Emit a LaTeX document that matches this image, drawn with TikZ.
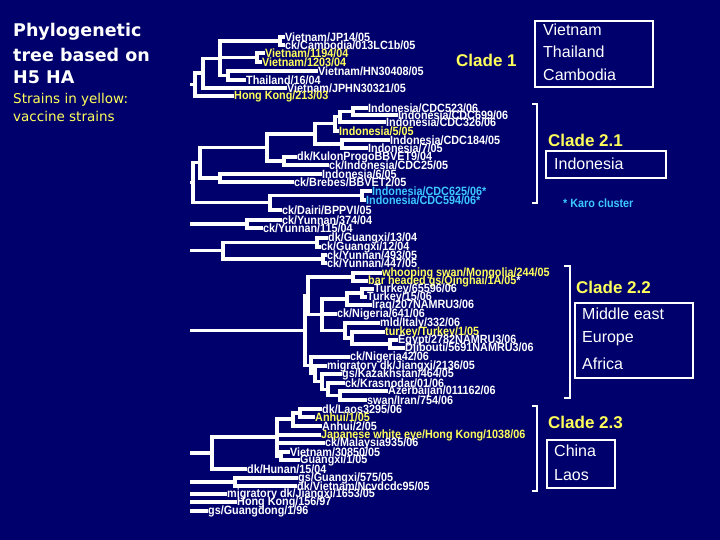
\documentclass[tikz,border=0pt]{standalone}
\usepackage{fontspec}
\setmainfont{Liberation Sans}
\newfontfamily\dvs{DejaVu Sans}
\newfontfamily\leaffont[FakeStretch=0.9]{Liberation Sans Bold}
\definecolor{bgnavy}{RGB}{0,0,108}
\definecolor{hy}{RGB}{255,255,90}
\definecolor{karoc}{RGB}{60,200,255}
\begin{document}
\begin{tikzpicture}[x=1pt,y=-1pt,
  leaf/.style={anchor=west,inner sep=0pt,text=white,font=\leaffont\fontsize{12}{12}\selectfont},
  vac/.style={text=hy},
  karo/.style={text=karoc},
  br/.style={draw=white,line width=3.2pt},
  brk/.style={draw=white,line width=1.8pt},
  cbox/.style={draw=white,line width=1.8pt,inner sep=0pt},
  ctext/.style={anchor=west,inner sep=0pt,text=white,font=\fontsize{16}{16}\selectfont},
  clade/.style={anchor=west,inner sep=0pt,text=hy,font=\fontsize{17}{17}\selectfont\bfseries},
  ttl/.style={anchor=west,inner sep=0pt,text=white,font=\dvs\fontsize{17.5}{17.5}\selectfont\bfseries},
  sub/.style={anchor=west,inner sep=0pt,text=hy,font=\dvs\fontsize{13.5}{13.5}\selectfont},
]
\fill[bgnavy] (0,0) rectangle (720,540);
\useasboundingbox (0,0) rectangle (720,540);

% ---------- title ----------
\node[ttl] (t1) at (13,32) {Phylogenetic};
\node[ttl] (t2) at (13,55) {tree based on};
\node[ttl] (t3) at (13,77) {H5 HA};
\node[sub] (s1) at (13,100) {Strains in yellow:};
\node[sub] (s2) at (13,116) {vaccine strains};

% ---------- Clade 1 leaves ----------
\node[leaf] (v1) at (285,37) {Vietnam/JP14/05};
\node[leaf] (v2) at (285,45) {ck/Cambodia/013LC1b/05};
\node[leaf,vac] (v3) at (265,53) {Vietnam/1194/04};
\node[leaf,vac] (v4) at (262,62) {Vietnam/1203/04};
\node[leaf] (v5) at (318,71) {Vietnam/HN30408/05};
\node[leaf] (v6) at (246,80) {Thailand/16/04};
\node[leaf] (v7) at (287,88) {Vietnam/JPHN30321/05};
\node[leaf,vac] (v8) at (234,96) {Hong Kong/213/03};

\coordinate (a1) at (280,41);
\coordinate (a2) at (257,57.5);
\coordinate (a4) at (228,75.5);
\coordinate (a3) at (220,58.3);
\coordinate (a5) at (203,73);
\coordinate (a6) at (195,84.5);
\coordinate (r1) at (190,84.5);
\draw[br] (a1) |- (v1.west); \draw[br] (a1) |- (v2.west);
\draw[br] (a2) |- (v3.west); \draw[br] (a2) |- (v4.west);
\draw[br] (a4) |- (v5.west); \draw[br] (a4) |- (v6.west);
\draw[br] (a3) |- (a1); \draw[br] (a3) |- (a2); \draw[br] (a3) |- (a4);
\draw[br] (a5) |- (a3); \draw[br] (a5) |- (v7.west);
\draw[br] (a6) |- (a5); \draw[br] (a6) |- (v8.west);
\draw[br] (r1) -- (a6);

% ---------- Clade 2.1 leaves ----------
\node[leaf] (i1) at (368,108) {Indonesia/CDC523/06};
\node[leaf] (i2) at (398,115) {Indonesia/CDC699/06};
\node[leaf] (i3) at (386,122) {Indonesia/CDC326/06};
\node[leaf,vac] (i4) at (339,131) {Indonesia/5/05};
\node[leaf] (i5) at (390,140) {Indonesia/CDC184/05};
\node[leaf] (i6) at (368,148) {Indonesia/7/05};
\node[leaf] (i7) at (297,157) {dk/KulonProgoBBVET9/04};
\node[leaf] (i8) at (329,165) {ck/Indonesia/CDC25/05};
\node[leaf] (i9) at (322,174) {Indonesia/6/05};
\node[leaf] (i10) at (294,182) {ck/Brebes/BBVET2/05};
\node[leaf,karo] (i11) at (372,191) {Indonesia/CDC625/06*};
\node[leaf,karo] (i12) at (366,200) {Indonesia/CDC594/06*};
\node[leaf] (i13) at (282,210) {ck/Dairi/BPPVI/05};

\coordinate (b1) at (353,111.5);
\coordinate (b2) at (340,116.8);
\coordinate (b3) at (335,123.9);
\coordinate (b4) at (342,144);
\coordinate (b5) at (315,134);
\coordinate (b7) at (284,161);
\coordinate (b6) at (267,147.5);
\coordinate (b8) at (220,178);
\coordinate (b9) at (200,162.8);
\coordinate (b12) at (362,195.5);
\coordinate (b11) at (270,202.8);
\coordinate (b10) at (193,182.8);
\coordinate (r2) at (190,182.8);
\draw[br] (b1) |- (i1.west); \draw[br] (b1) |- (i2.west);
\draw[br] (b2) |- (b1); \draw[br] (b2) |- (i3.west);
\draw[br] (b3) |- (b2); \draw[br] (b3) |- (i4.west);
\draw[br] (b4) |- (i5.west); \draw[br] (b4) |- (i6.west);
\draw[br] (b5) |- (b3); \draw[br] (b5) |- (b4);
\draw[br] (b7) |- (i7.west); \draw[br] (b7) |- (i8.west);
\draw[br] (b6) |- (b5); \draw[br] (b6) |- (b7);
\draw[br] (b8) |- (i9.west); \draw[br] (b8) |- (i10.west);
\draw[br] (b9) |- (b6); \draw[br] (b9) |- (b8);
\draw[br] (b12) |- (i11.west); \draw[br] (b12) |- (i12.west);
\draw[br] (b11) |- (b12); \draw[br] (b11) |- (i13.west);
\draw[br] (b10) |- (b9); \draw[br] (b10) |- (b11);
\draw[br] (r2) -- (b10);

% ---------- Yunnan / Guangxi ----------
\node[leaf] (y1) at (282,220) {ck/Yunnan/374/04};
\node[leaf] (y2) at (263,228) {ck/Yunnan/115/04};
\node[leaf] (y3) at (328,238) {dk/Guangxi/13/04};
\node[leaf] (y4) at (321,247) {ck/Guangxi/12/04};
\node[leaf] (y5) at (327,255) {ck/Yunnan/493/05};
\node[leaf] (y6) at (327,263) {ck/Yunnan/447/05};
\coordinate (c1) at (247,224);
\coordinate (r3) at (190,224);
\coordinate (d1) at (317,242.5);
\coordinate (d2) at (323,259);
\coordinate (d3) at (223,250.8);
\coordinate (r4) at (190,250.8);
\draw[br] (c1) |- (y1.west); \draw[br] (c1) |- (y2.west);
\draw[br] (r3) -- (c1);
\draw[br] (d1) |- (y3.west); \draw[br] (d1) |- (y4.west);
\draw[br] (d2) |- (y5.west); \draw[br] (d2) |- (y6.west);
\draw[br] (d3) |- (d1); \draw[br] (d3) |- (d2);
\draw[br] (r4) -- (d3);

% ---------- Clade 2.2 ----------
\node[leaf,vac] (m1) at (382,273) {whooping swan/Mongolia/244/05};
\node[leaf,vac] (m2) at (368,281) {bar headed gs/Qinghai/1A/05\textcolor{white}{ *}};
\node[leaf] (m3) at (374,289) {Turkey/65596/06};
\node[leaf] (m4) at (367,297) {Turkey/15/06};
\node[leaf] (m5) at (372,305) {Iraq/207NAMRU3/06};
\node[leaf] (m6) at (337,314) {ck/Nigeria/641/06};
\node[leaf] (m7) at (380,323) {mld/Italy/332/06};
\node[leaf,vac] (m8) at (385,332) {turkey/Turkey/1/05};
\node[leaf] (m9) at (398,340) {Egypt/2782NAMRU3/06};
\node[leaf] (m10) at (405,348) {Djibouti/5691NAMRU3/06};
\node[leaf] (m11) at (350,357) {ck/Nigeria42/06};
\node[leaf] (m12) at (327,366) {migratory dk/Jiangxi/2136/05};
\node[leaf] (m13) at (342,374) {gs/Kazakhstan/464/05};
\node[leaf] (m14) at (345,383) {ck/Krasnodar/01/06};
\node[leaf] (m15) at (388,391) {Azerbaijan/011162/06};
\node[leaf] (m16) at (367,400) {swan/Iran/754/06};

\coordinate (e1) at (353,277);
\coordinate (e2) at (362,293);
\coordinate (e3) at (347,299);
\coordinate (f1) at (390,344);
\coordinate (f2) at (352,338);
\coordinate (f3) at (345,330.5);
\coordinate (e4) at (322,314.8);
\coordinate (e5) at (308,295.9);
\coordinate (g1) at (340,395.5);
\coordinate (g2) at (328,389.3);
\coordinate (g3) at (322,381.6);
\coordinate (g4) at (315,373.8);
\coordinate (g5) at (311,365.4);
\coordinate (e6) at (305,330.6);
\coordinate (r5) at (190,330.6);
\draw[br] (e1) |- (m1.west); \draw[br] (e1) |- (m2.west);
\draw[br] (e2) |- (m3.west); \draw[br] (e2) |- (m4.west);
\draw[br] (e3) |- (e2); \draw[br] (e3) |- (m5.west);
\draw[br] (f1) |- (m9.west); \draw[br] (f1) |- (m10.west);
\draw[br] (f2) |- (m8.west); \draw[br] (f2) |- (f1);
\draw[br] (f3) |- (m7.west); \draw[br] (f3) |- (f2);
\draw[br] (e4) |- (e3); \draw[br] (e4) |- (m6.west); \draw[br] (e4) |- (f3);
\draw[br] (e5) |- (e1); \draw[br] (e5) |- (e4);
\draw[br] (g1) |- (m15.west); \draw[br] (g1) |- (m16.west);
\draw[br] (g2) |- (m14.west); \draw[br] (g2) |- (g1);
\draw[br] (g3) |- (m13.west); \draw[br] (g3) |- (g2);
\draw[br] (g4) |- (m12.west); \draw[br] (g4) |- (g3);
\draw[br] (g5) |- (m11.west); \draw[br] (g5) |- (g4);
\draw[br] (e6) |- (e5); \draw[br] (e6) |- (g5);
\draw[br] (r5) -- (e6);

% ---------- Clade 2.3 and basal ----------
\node[leaf] (n1) at (322,409) {dk/Laos3295/06};
\node[leaf,vac] (n2) at (315,417) {Anhui/1/05};
\node[leaf] (n3) at (322,426) {Anhui/2/05};
\node[leaf,vac] (n4) at (321,435) {Japanese white eye/Hong Kong/1038/06};
\node[leaf] (n5) at (325,443) {ck/Malaysia935/06};
\node[leaf] (n6) at (290,452) {Vietnam/30850/05};
\node[leaf] (n7) at (300,460) {Guangxi/1/05};
\node[leaf] (n8) at (247,469) {dk/Hunan/15/04};
\node[leaf] (n9) at (298,478) {gs/Guangxi/575/05};
\node[leaf] (n10) at (297,486) {dk/Vietnam/Ncvdcdc95/05};
\node[leaf] (n11) at (227,494) {migratory dk/Jiangxi/1653/05};
\node[leaf] (n12) at (237,502) {Hong Kong/156/97};
\node[leaf] (n13) at (208,511) {gs/Guangdong/1/96};

\coordinate (h0) at (300,413);
\coordinate (h1) at (293,419);
\coordinate (h2) at (281,456);
\coordinate (h3) at (277,437);
\coordinate (h4) at (212,453);
\coordinate (r6) at (190,453);
\coordinate (k1) at (235,482);
\coordinate (r7) at (190,482);
\coordinate (r8) at (190,494);
\coordinate (r9) at (190,502);
\coordinate (r10) at (190,511);
\draw[br] (h0) |- (n1.west); \draw[br] (h0) |- (n2.west);
\draw[br] (h1) |- (h0); \draw[br] (h1) |- (n3.west);
\draw[br] (h2) |- (n6.west); \draw[br] (h2) |- (n7.west);
\draw[br] (h3) |- (h1); \draw[br] (h3) |- (n4.west); \draw[br] (h3) |- (n5.west); \draw[br] (h3) |- (h2);
\draw[br] (h4) |- (h3); \draw[br] (h4) |- (n8.west);
\draw[br] (r6) -- (h4);
\draw[br] (k1) |- (n9.west); \draw[br] (k1) |- (n10.west);
\draw[br] (r7) -- (k1);
\draw[br] (r8) -- (n11.west);
\draw[br] (r9) -- (n12.west);
\draw[br] (r10) -- (n13.west);

% ---------- clade annotations ----------
\node[clade] (cl1) at (456,60) {Clade 1};
\node[cbox,minimum width=118,minimum height=66] (bx1) at (594,54) {};
\node[ctext] (bx1a) at (543,30) {Vietnam};
\node[ctext] (bx1b) at (543,52) {Thailand};
\node[ctext] (bx1c) at (543,75) {Cambodia};

\coordinate (k21t) at (532,104); \coordinate (k21b) at (532,203);
\draw[brk] (k21t) -- ++(5,0) -- ++(0,99) -- (k21b);
\node[clade] (cl21) at (548,140) {Clade 2.1};
\node[cbox,minimum width=120,minimum height=27] (bx2) at (606,164.5) {};
\node[ctext] (bx2a) at (554,164) {Indonesia};
\node[anchor=west,inner sep=0pt,text=karoc,font=\leaffont\fontsize{12}{12}\selectfont] (karo) at (563,203) {* Karo cluster};

\coordinate (k22t) at (564,266); \coordinate (k22b) at (564,398);
\draw[brk] (k22t) -- ++(6,0) -- ++(0,132) -- (k22b);
\node[clade] (cl22) at (576,287) {Clade 2.2};
\node[cbox,minimum width=118,minimum height=75] (bx3) at (634,340.5) {};
\node[ctext] (bx3a) at (582,314) {Middle east};
\node[ctext] (bx3b) at (582,339) {Europe};
\node[ctext] (bx3c) at (582,364) {Africa};

\coordinate (k23t) at (532,406); \coordinate (k23b) at (532,491);
\draw[brk] (k23t) -- ++(5,0) -- ++(0,85) -- (k23b);
\node[clade] (cl23) at (548,422) {Clade 2.3};
\node[cbox,minimum width=68,minimum height=48] (bx4) at (581,464) {};
\node[ctext] (bx4a) at (554,451) {China};
\node[ctext] (bx4b) at (554,475) {Laos};
\end{tikzpicture}
\end{document}
